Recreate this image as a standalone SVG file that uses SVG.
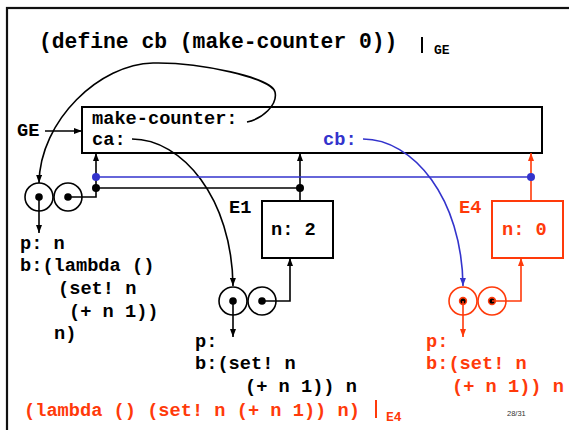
<svg xmlns="http://www.w3.org/2000/svg" width="569" height="430" viewBox="0 0 569 430">
  <style>
    .code { font-family: "Liberation Mono", "Courier New", monospace; font-weight: bold; font-size: 18.67px; fill: #000; }
    .title { font-size: 21.33px; }
    .sub { font-size: 13px; }
    .red { fill: #ff3a0a; }
    .blue { fill: #3333cc; }
    .box { fill: #fff; stroke: #000; stroke-width: 2; }
    .box.r { stroke: #ff3a0a; }
    .cell { fill: #fff; stroke: #000; stroke-width: 1.6; }
    .cell.r { stroke: #ff3a0a; }
    .ln { fill: none; stroke: #000; stroke-width: 1.6; }
    .ln.b { stroke: #3333cc; }
    .ln.r { stroke: #ff3a0a; }
    .dot { fill: #000; }
    .dot.r { stroke: #ff3a0a; stroke-width: 1.6; }
    .dot.b { fill: #3333cc; }
  </style>
  <defs>
    <marker id="ah" markerUnits="userSpaceOnUse" markerWidth="8" markerHeight="6" refX="8" refY="3" orient="auto">
      <path d="M0,0 L8,3 L0,6 z" fill="#000"/>
    </marker>
    <marker id="ah-b" markerUnits="userSpaceOnUse" markerWidth="8" markerHeight="6" refX="8" refY="3" orient="auto">
      <path d="M0,0 L8,3 L0,6 z" fill="#3333cc"/>
    </marker>
    <marker id="ah-r" markerUnits="userSpaceOnUse" markerWidth="8" markerHeight="6" refX="8" refY="3" orient="auto">
      <path d="M0,0 L8,3 L0,6 z" fill="#ff3a0a"/>
    </marker>
  </defs>

  <rect width="569" height="430" fill="#fff"/>
  <!-- slide frame -->
  <rect x="7" y="8" width="620" height="500" fill="none" stroke="#111" stroke-width="2.2"/>

  <!-- heading -->
  <g id="heading">
    <text class="code title" x="39" y="48">(define cb (make-counter 0))</text>
    <line x1="422" y1="37" x2="422" y2="53" stroke="#000" stroke-width="2"/>
    <text class="code sub" x="434" y="54">GE</text>
  </g>

  <!-- global environment -->
  <g id="env-ge">
    <rect class="box" x="82" y="107" width="460" height="46"/>
    <text class="code" x="92" y="124">make-counter:</text>
    <text class="code" x="92" y="145">ca:</text>
    <text class="code blue" x="323" y="145">cb:</text>
  </g>
  <g id="label-ge">
    <text class="code" x="17" y="136">GE</text>
  </g>

  <!-- frame E1 -->
  <g id="env-e1">
    <rect class="box" x="262" y="201" width="71" height="57"/>
    <text class="code" x="271" y="235">n: 2</text>
    <text class="code" x="229" y="213">E1</text>
  </g>

  <!-- frame E4 -->
  <g id="env-e4">
    <rect class="box r" x="492" y="201" width="71" height="57"/>
    <text class="code red" x="502" y="235">n: 0</text>
    <text class="code red" x="459" y="213">E4</text>
  </g>

  <!-- procedure make-counter -->
  <g id="proc-make-counter">
    <circle class="cell" cx="39" cy="197" r="14"/>
    <circle class="cell" cx="68" cy="197" r="14"/>
    <circle class="dot" cx="39" cy="197" r="3.8"/>
    <circle class="dot" cx="68" cy="197" r="3.8"/>
  </g>
  <g id="code-make-counter">
    <text class="code" x="20" y="249">p: n</text>
    <text class="code" x="20" y="271">b:(lambda ()</text>
    <text class="code" x="58" y="294">(set! n</text>
    <text class="code" x="69" y="317">(+ n 1))</text>
    <text class="code" x="54" y="339">n)</text>
  </g>

  <!-- procedure ca -->
  <g id="proc-ca">
    <circle class="cell" cx="233" cy="301" r="14"/>
    <circle class="cell" cx="262" cy="301" r="14"/>
    <circle class="dot" cx="233" cy="301" r="3.8"/>
    <circle class="dot" cx="262" cy="301" r="3.8"/>
  </g>
  <g id="code-ca">
    <text class="code" x="195" y="347">p:</text>
    <text class="code" x="195" y="369">b:(set! n</text>
    <text class="code" x="245" y="392">(+ n 1)) n</text>
  </g>

  <!-- procedure cb -->
  <g id="proc-cb">
    <circle class="cell r" cx="463" cy="301" r="14"/>
    <circle class="cell r" cx="492" cy="301" r="14"/>
    <circle class="dot r" cx="463" cy="301" r="3.4"/>
    <circle class="dot r" cx="492" cy="301" r="3.4"/>
  </g>
  <g id="code-cb">
    <text class="code red" x="426" y="347">p:</text>
    <text class="code red" x="426" y="369">b:(set! n</text>
    <text class="code red" x="452" y="392">(+ n 1)) n</text>
  </g>

  <!-- expression being evaluated -->
  <g id="expr">
    <text class="code red" x="24" y="416">(lambda () (set! n (+ n 1)) n)</text>
    <line x1="376" y1="400" x2="376" y2="418" stroke="#ff3a0a" stroke-width="2"/>
    <text class="code sub red" x="386" y="421">E4</text>
  </g>

  <g id="page-number">
    <text x="507" y="416" font-family="Liberation Sans, Arial, sans-serif" font-size="7.5" fill="#333">28/31</text>
  </g>

  <!-- connectors -->
  <g id="connectors">
    <path class="ln" d="M45,131 L82,131" marker-end="url(#ah)"/>
    <path class="ln" d="M247,122 C262,119 278,105 275,92 C272,78 200,62 153,63 C100,64 40,120 39,183" marker-end="url(#ah)"/>
    <path class="ln" d="M132,139 C182,139 232,198 233,286" marker-end="url(#ah)"/>
    <path class="ln b" d="M363,139 C413,139 462,198 463,286" marker-end="url(#ah-b)"/>

    <path class="ln" d="M68,197 H96 V153" marker-end="url(#ah)"/>
    <path class="ln" d="M39,197 V233" marker-end="url(#ah)"/>
    <path class="ln" d="M96,188 H300"/>
    <path class="ln" d="M300,201 V153" marker-end="url(#ah)"/>
    <path class="ln" d="M262,301 H290 V258" marker-end="url(#ah)"/>
    <path class="ln" d="M233,301 V337" marker-end="url(#ah)"/>

    <path class="ln r" d="M531,201 V153" marker-end="url(#ah-r)"/>
    <path class="ln r" d="M492,301 H521 V258" marker-end="url(#ah-r)"/>
    <path class="ln r" d="M463,301 V337" marker-end="url(#ah-r)"/>

    <path class="ln b" d="M96,177 H531"/>
    <circle class="dot" cx="96" cy="188" r="4"/>
    <circle class="dot" cx="300" cy="188" r="4"/>
    <circle class="dot b" cx="96" cy="177" r="4"/>
    <circle class="dot b" cx="531" cy="177" r="4"/>
  </g>
</svg>
